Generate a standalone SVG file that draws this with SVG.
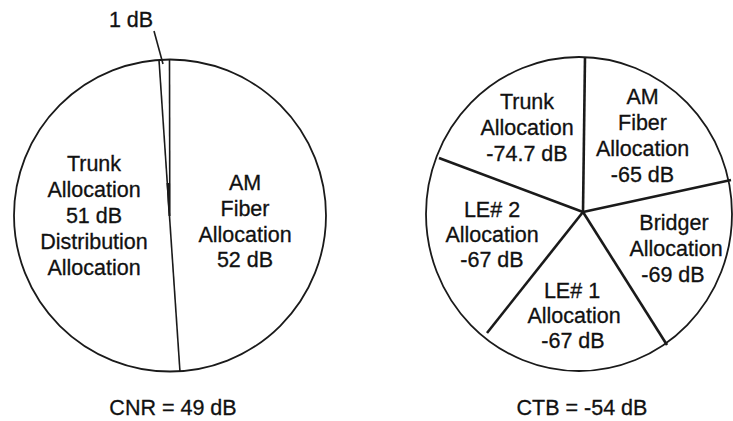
<svg xmlns="http://www.w3.org/2000/svg" width="733" height="421" viewBox="0 0 733 421">
<style>
text{font-family:"Liberation Sans",Arial,Helvetica,sans-serif;font-size:21.5px;fill:#111;text-anchor:middle;stroke:#111;stroke-width:0.3}
.rim{fill:#fff;stroke:#1a1a1a;stroke-width:1.8}
.thin{stroke:#1a1a1a;stroke-width:1.6;fill:none}
.spoke{stroke:#1a1a1a;stroke-width:2.6;fill:none}
</style>
<rect width="733" height="421" fill="#fff"/>
<g id="cnr-pie">
<circle class="rim" cx="170" cy="215.5" r="156"/>
</g>
<g id="ctb-pie">
<ellipse class="rim" cx="579" cy="214" rx="153" ry="157"/>
</g>
<g id="connectors">
<line class="thin" x1="159" y1="60" x2="180" y2="372"/>
<line class="thin" x1="169.5" y1="60" x2="169.8" y2="216"/>
<path d="M166.5 183 L170 183 L170 216 L168.5 216 Z" fill="#1a1a1a"/>
<line class="thin" x1="154" y1="31" x2="163" y2="64"/>
<line class="spoke" x1="583" y1="212" x2="585" y2="57"/>
<line class="spoke" x1="583" y1="212" x2="439" y2="158"/>
<line class="spoke" x1="583" y1="212" x2="487" y2="333"/>
<line class="spoke" x1="583" y1="212" x2="667" y2="345"/>
<line class="spoke" x1="583" y1="212" x2="731" y2="180"/>
</g>
<g id="label-1db"><text x="131" y="27">1 dB</text></g>
<g id="cnr-trunk">
<text x="94" y="171">Trunk</text>
<text x="94" y="197">Allocation</text>
<text x="94" y="223">51 dB</text>
<text x="94" y="249">Distribution</text>
<text x="94" y="275">Allocation</text>
</g>
<g id="cnr-am">
<text x="245" y="190">AM</text>
<text x="245" y="216">Fiber</text>
<text x="245" y="242">Allocation</text>
<text x="245" y="267">52 dB</text>
</g>
<g id="cnr-title"><text x="173" y="415">CNR = 49 dB</text></g>
<g id="ctb-trunk">
<text x="527" y="108.5">Trunk</text>
<text x="527" y="134.5">Allocation</text>
<text x="527" y="160.5">-74.7 dB</text>
</g>
<g id="ctb-am">
<text x="642.5" y="104">AM</text>
<text x="642.5" y="130">Fiber</text>
<text x="642.5" y="156">Allocation</text>
<text x="642.5" y="182">-65 dB</text>
</g>
<g id="ctb-le2">
<text x="492" y="216.5">LE# 2</text>
<text x="492" y="241.5">Allocation</text>
<text x="492" y="266.5">-67 dB</text>
</g>
<g id="ctb-bridger">
<text x="674" y="230">Bridger</text>
<text x="676" y="256">Allocation</text>
<text x="673" y="282">-69 dB</text>
</g>
<g id="ctb-le1">
<text x="572" y="298">LE# 1</text>
<text x="574" y="323">Allocation</text>
<text x="573" y="348">-67 dB</text>
</g>
<g id="ctb-title"><text x="582" y="415">CTB = -54 dB</text></g>
</svg>
